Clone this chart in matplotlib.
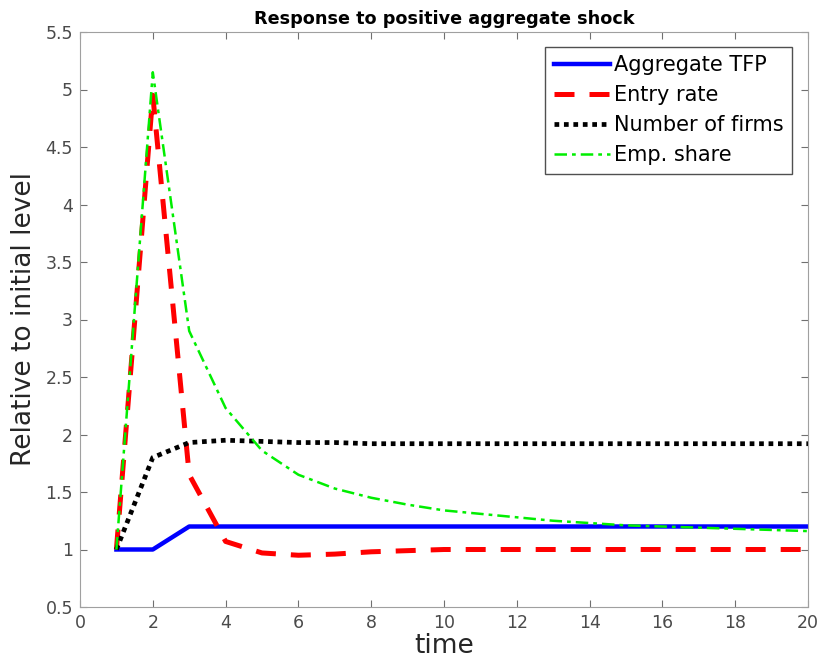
"""Impulse responses to a positive aggregate shock."""

import matplotlib.pyplot as plt

time = list(range(1, 21))
aggregate_tfp = [1.0, 1.0, 1.2, 1.2, 1.2, 1.2, 1.2, 1.2, 1.2, 1.2,
                 1.2, 1.2, 1.2, 1.2, 1.2, 1.2, 1.2, 1.2, 1.2, 1.2]
entry_rate = [1.0, 4.95, 1.65, 1.07, 0.97, 0.95, 0.96, 0.98, 0.99, 1.0,
              1.0, 1.0, 1.0, 1.0, 1.0, 1.0, 1.0, 1.0, 1.0, 1.0]
number_of_firms = [1.0, 1.8, 1.93, 1.95, 1.94, 1.93, 1.93, 1.92, 1.92, 1.92,
                   1.92, 1.92, 1.92, 1.92, 1.92, 1.92, 1.92, 1.92, 1.92, 1.92]
emp_share = [1.0, 5.15, 2.9, 2.23, 1.86, 1.65, 1.53, 1.45, 1.39, 1.34,
             1.31, 1.28, 1.25, 1.23, 1.21, 1.2, 1.19, 1.18, 1.17, 1.16]

x_ticks = list(range(0, 21, 2))
y_ticks = [0.5, 1, 1.5, 2, 2.5, 3, 3.5, 4, 4.5, 5, 5.5]

fig = plt.figure(figsize=(8.23, 6.61), dpi=100)
ax = fig.add_axes([80 / 823, 1 - 607 / 661, 728 / 823, 575 / 661])

ax.plot(time, aggregate_tfp, color="#0000ff", lw=3.2, label="Aggregate TFP")
ax.plot(time, entry_rate, color="#ff0000", lw=3.6, ls=(0, (4, 3)), label="Entry rate")
ax.plot(time, number_of_firms, color="black", lw=3.4, ls=(0, (1, 1)), label="Number of firms")
ax.plot(time, emp_share, color="#00ee00", lw=1.8, ls=(0, (5, 2, 1.5, 2)), label="Emp. share")

ax.set_xlim(0, 20)
ax.set_ylim(0.5, 5.5)
ax.set_xticks(x_ticks)
ax.set_yticks(y_ticks)
ax.set_yticklabels([f"{v:g}" for v in y_ticks])
ax.tick_params(direction="in", top=True, right=True, labelsize=12.5,
               labelcolor="#4a4a4a", color="#707070", length=5, pad=5)
for spine in ax.spines.values():
    spine.set_color("#a0a0a0")

ax.set_title("Response to positive aggregate shock", fontsize=12.7,
             fontweight="bold", pad=6)
ax.set_xlabel("time", fontsize=19, color="#262626", labelpad=1)
ax.set_ylabel("Relative to initial level", fontsize=19, color="#262626", labelpad=6)

legend = ax.legend(loc="upper right", fontsize=15, handlelength=2.7,
                   handletextpad=0.2, borderpad=0.4, labelspacing=0.48,
                   borderaxespad=0, fancybox=False, framealpha=1,
                   bbox_to_anchor=(0.978, 0.974))
legend.get_frame().set_edgecolor("#505050")

fig.savefig("out.png", dpi=100)
